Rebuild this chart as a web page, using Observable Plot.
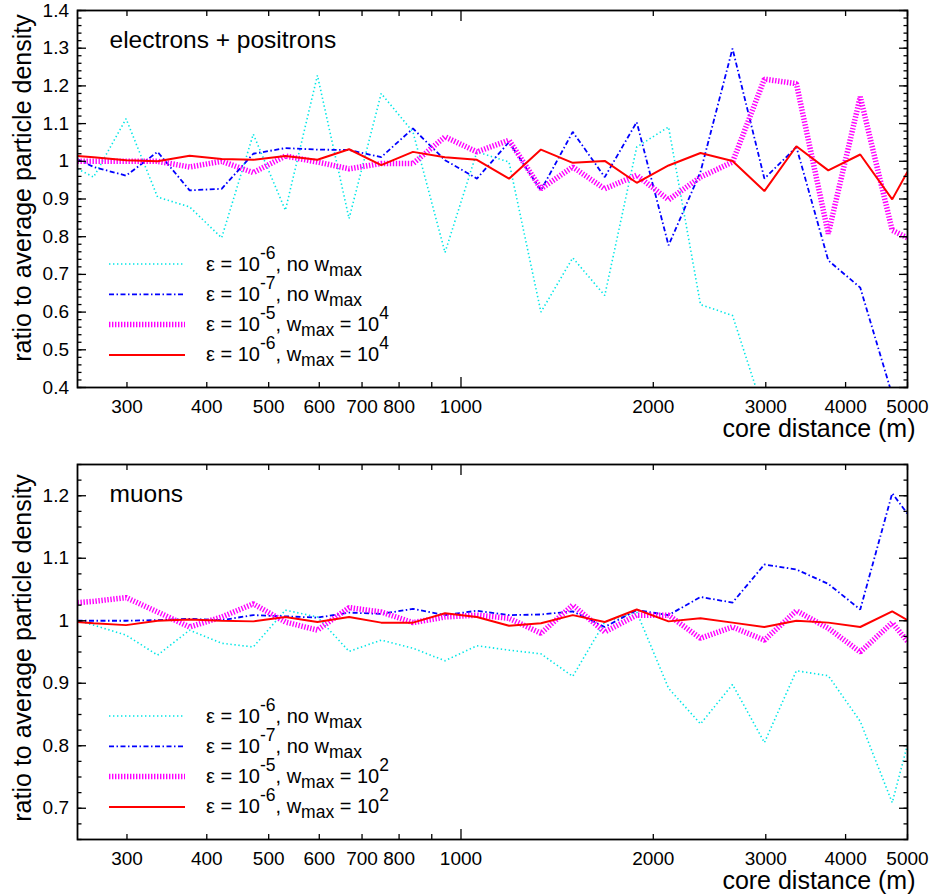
<!DOCTYPE html>
<html><head><meta charset="utf-8">
<script src="https://cdn.jsdelivr.net/npm/d3@7"></script>
<script src="https://cdn.jsdelivr.net/npm/@observablehq/plot@0.6"></script>
<style>
body{margin:0;background:#fff;}
#c svg{display:block;}
</style></head><body><div id="c"></div>
<script>
// ---- data ----
const distances = [251, 266, 299, 335, 376, 422, 473, 531, 596, 668, 750, 841, 944, 1059, 1189, 1334, 1496, 1679, 1884, 2113, 2371, 2661, 2985, 3350, 3758, 4217, 4732, 5000];

// electrons + positrons
const epEps6NoWmax = [0.98, 0.958, 1.113, 0.905, 0.879, 0.797, 1.072, 0.87, 1.228, 0.848, 1.18, 1.078, 0.758, 1.025, 0.998, 0.6, 0.744, 0.644, 1.038, 1.091, 0.62, 0.591, 0.33, null, null, null, null, null];
const epEps7NoWmax = [1.005, 0.985, 0.962, 1.025, 0.923, 0.927, 1.02, 1.035, 1.031, 1.03, 1.011, 1.087, 1.003, 0.954, 1.051, 0.923, 1.078, 0.958, 1.104, 0.777, 0.972, 1.299, 0.954, 1.038, 0.737, 0.665, 0.38, null];
const epEps5Wmax = [1.0, 1.0, 1.0, 1.0, 0.985, 1.0, 0.97, 1.014, 0.998, 0.98, 0.994, 0.994, 1.065, 1.025, 1.056, 0.927, 0.985, 0.927, 0.963, 0.898, 0.958, 0.998, 1.218, 1.206, 0.808, 1.171, 0.817, 0.797];
const epEps6Wmax = [1.014, 1.011, 1.003, 1.0, 1.015, 1.006, 1.004, 1.014, 1.004, 1.032, 0.99, 1.025, 1.011, 1.004, 0.954, 1.031, 0.996, 1.001, 0.943, 0.989, 1.022, 1.001, 0.921, 1.04, 0.976, 1.018, 0.899, 0.972];

// muons
const muEps6NoWmax = [1.0, 0.993, 0.977, 0.945, 0.985, 0.964, 0.958, 1.017, 1.006, 0.951, 0.969, 0.956, 0.936, 0.96, 0.953, 0.947, 0.911, 0.998, 1.014, 0.892, 0.835, 0.898, 0.805, 0.92, 0.912, 0.839, 0.709, 0.802];
const muEps7NoWmax = [1.0, 1.0, 1.0, 1.001, 1.003, 1.001, 1.009, 1.007, 1.005, 1.013, 1.011, 1.019, 1.009, 1.016, 1.009, 1.01, 1.015, 0.99, 1.017, 1.009, 1.038, 1.029, 1.09, 1.082, 1.059, 1.018, 1.204, 1.171];
const muEps5Wmax = [1.029, 1.031, 1.037, 1.014, 0.99, 1.006, 1.027, 0.998, 0.985, 1.021, 1.014, 0.997, 1.006, 1.009, 1.004, 0.98, 1.025, 0.982, 1.009, 1.009, 0.972, 0.99, 0.969, 1.016, 0.988, 0.95, 0.997, 0.967];
const muEps6Wmax = [0.998, 0.996, 0.993, 1.0, 1.002, 1.0, 0.999, 1.006, 0.998, 1.006, 0.997, 0.997, 1.012, 1.006, 0.992, 0.996, 1.009, 0.998, 1.018, 0.999, 1.004, 0.997, 0.99, 1.0, 0.997, 0.99, 1.015, 1.001];

// axes / labels
const xDomain = [251, 5000];
const xTickLabels = [300, 400, 500, 600, 700, 800, 1000, 2000, 3000, 4000, 5000];
const xMajorTicks = [1000];
const xMinorTicks = [300, 400, 500, 600, 700, 800, 900, 2000, 3000, 4000, 5000];
const epYDomain = [0.4, 1.4];
const epYTickLabels = [0.4, 0.5, 0.6, 0.7, 0.8, 0.9, 1, 1.1, 1.2, 1.3, 1.4];
const muYDomain = [0.65, 1.25];
const muYTickLabels = [0.7, 0.8, 0.9, 1, 1.1, 1.2];
const xAxisLabel = "core distance (m)";
const yAxisLabel = "ratio to average particle density";
const epTitle = "electrons + positrons";
const muTitle = "muons";

// legend texts
const legendEpsExp = ["-6", "-7", "-5", "-6"];
const legendHasWmax = [false, false, true, true];
const epWmaxExp = "4";
const muWmaxExp = "2";

// ---- styles ----
const FONT = "'Liberation Sans', Arial, Helvetica, sans-serif";
const lineStyles = [
  {stroke: "#00e6e6", strokeWidth: 1.6, strokeDasharray: "1.4,2.6"},
  {stroke: "#0000ff", strokeWidth: 1.8, strokeDasharray: "5,2.5,1.5,2.5"},
  {stroke: "#ff00ff", strokeWidth: 5.5, strokeDasharray: "1.4,1.6"},
  {stroke: "#ff0000", strokeWidth: 2, strokeDasharray: null}
];

function panel(cfg) {
  const lineMarks = cfg.series.map((vals, si) => {
    const rows = vals.map((v, i) => ({x: distances[i], y: v}));
    const st = lineStyles[si];
    return Plot.line(rows, {x: "x", y: "y", clip: true, stroke: st.stroke, strokeWidth: st.strokeWidth,
      strokeDasharray: st.strokeDasharray, strokeLinecap: "butt", strokeLinejoin: "miter"});
  });
  const yMinor = d3.range(cfg.yDomain[0], cfg.yDomain[1] + 1e-9, cfg.yMinorStep).map(v => +v.toFixed(4));
  const tk = {fill: "none", label: null, strokeWidth: 1.3};
  const svg = Plot.plot({
    width: 933, height: cfg.height,
    marginTop: cfg.marginTop, marginBottom: cfg.marginBottom, marginLeft: 77, marginRight: 26,
    style: {fontFamily: FONT, fontSize: "19px", background: "#fff", color: "#000", overflow: "visible"},
    x: {type: "log", domain: xDomain},
    y: {domain: cfg.yDomain},
    marks: [
      ...lineMarks,
      // inward tick marks on all four sides
      Plot.axisX(xMinorTicks, {anchor: "bottom", tickSize: -5, ...tk}),
      Plot.axisX(xMinorTicks, {anchor: "top", tickSize: -5, ...tk}),
      Plot.axisX(xMajorTicks, {anchor: "bottom", tickSize: -10, ...tk}),
      Plot.axisX(xMajorTicks, {anchor: "top", tickSize: -10, ...tk}),
      Plot.axisY(yMinor, {anchor: "left", tickSize: -4.5, ...tk}),
      Plot.axisY(yMinor, {anchor: "right", tickSize: -4.5, ...tk}),
      Plot.axisY(cfg.yTickLabels, {anchor: "left", tickSize: -9, ...tk}),
      Plot.axisY(cfg.yTickLabels, {anchor: "right", tickSize: -9, ...tk}),
      // tick labels
      Plot.axisX(xTickLabels, {anchor: "bottom", tickSize: 0, tickPadding: 12, label: null, fontSize: 19, tickFormat: d => String(d)}),
      Plot.axisY(cfg.yTickLabels, {anchor: "left", tickSize: 0, tickPadding: 8.5, label: null, fontSize: 19, tickFormat: d => String(Math.round(d * 10) / 10)}),
      Plot.frame({strokeWidth: 1.8}),
      // texts
      Plot.text([cfg.title], {text: d => d, frameAnchor: "top-left", dx: 32, dy: 37, textAnchor: "start", lineAnchor: "bottom", fontSize: 24.5}),
      Plot.text([xAxisLabel], {text: d => d, frameAnchor: "bottom-right", dx: 8, dy: 49, textAnchor: "end", lineAnchor: "bottom", fontSize: 25}),
      Plot.text([yAxisLabel], {text: d => d, frameAnchor: "left", rotate: -90, dx: -55, dy: cfg.yLabelDy, textAnchor: "middle", lineAnchor: "middle", fontSize: 25})
    ]
  });
  // legend inside the frame (bottom-left)
  const frameLeft = 77, frameBottom = cfg.height - cfg.marginBottom;
  const g = d3.select(svg).append("g").attr("font-family", FONT).attr("font-size", 20)
    .attr("fill", "#000").attr("text-anchor", "start");
  const small = 17.5, up = 12, down = 5;
  legendEpsExp.forEach((eps, i) => {
    const y = frameBottom - 123 + i * 30.3;
    const st = lineStyles[i];
    g.append("line").attr("x1", frameLeft + 32).attr("x2", frameLeft + 108).attr("y1", y).attr("y2", y)
      .attr("stroke", st.stroke).attr("stroke-width", st.strokeWidth)
      .attr("stroke-dasharray", st.strokeDasharray);
    const t = g.append("text").attr("x", frameLeft + 129).attr("y", y + 6.5);
    t.append("tspan").text("ε = 10");
    t.append("tspan").attr("dy", -up).attr("font-size", small).text(eps);
    if (legendHasWmax[i]) {
      t.append("tspan").attr("dy", up).text(", w");
      t.append("tspan").attr("dy", down).attr("font-size", small).text("max");
      t.append("tspan").attr("dy", -down).text(" = 10");
      t.append("tspan").attr("dy", -up).attr("font-size", small).text(cfg.wmaxExp);
    } else {
      t.append("tspan").attr("dy", up).text(", no w");
      t.append("tspan").attr("dy", down).attr("font-size", small).text("max");
    }
  });
  return svg;
}

const c = document.getElementById("c");
c.appendChild(panel({
  series: [epEps6NoWmax, epEps7NoWmax, epEps5Wmax, epEps6Wmax],
  yDomain: epYDomain, yTickLabels: epYTickLabels, yMinorStep: 0.02,
  title: epTitle, wmaxExp: epWmaxExp,
  height: 448, marginTop: 10, marginBottom: 61, yLabelDy: -11
}));
c.appendChild(panel({
  series: [muEps6NoWmax, muEps7NoWmax, muEps5Wmax, muEps6Wmax],
  yDomain: muYDomain, yTickLabels: muYTickLabels, yMinorStep: 0.025,
  title: muTitle, wmaxExp: muWmaxExp,
  height: 448, marginTop: 16, marginBottom: 57, yLabelDy: -4
}));
</script></body></html>
